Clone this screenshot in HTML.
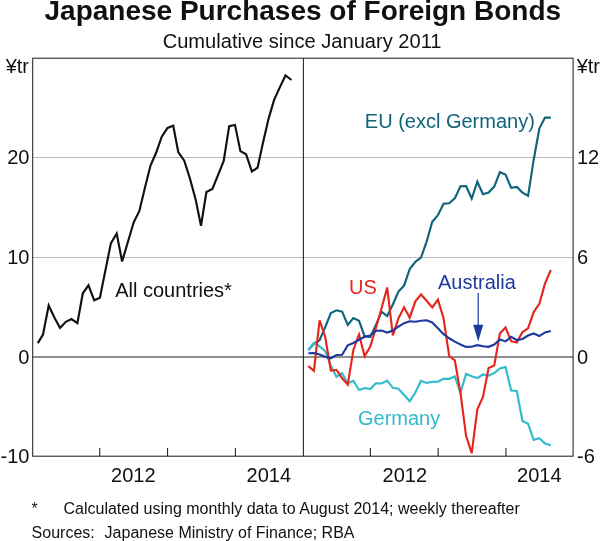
<!DOCTYPE html>
<html><head><meta charset="utf-8"><title>Japanese Purchases of Foreign Bonds</title>
<style>
html,body{margin:0;padding:0;background:#fff;}
body{width:600px;height:541px;overflow:hidden;}
svg{display:block;font-family:"Liberation Sans",Arial,sans-serif;}
.t{font-size:20px;fill:#111;}
text{paint-order:stroke;}
</style></head><body>
<svg width="600" height="541" viewBox="0 0 600 541">
<rect width="600" height="541" fill="#fff"/>
<text x="302.8" y="19.9" text-anchor="middle" font-size="28" font-weight="bold" fill="#111">Japanese Purchases of Foreign Bonds</text>
<text x="302.1" y="47.8" text-anchor="middle" font-size="20.1" fill="#111">Cumulative since January 2011</text>
<g stroke="#b9bbbf" stroke-width="1" fill="none">
<line x1="32.7" y1="157.5" x2="573.1" y2="157.5"/>
<line x1="32.7" y1="257.5" x2="573.1" y2="257.5"/>
</g>
<g stroke="#6a6a6a" stroke-width="1.3" fill="none">
<line x1="32.7" y1="357" x2="573.1" y2="357"/>
</g>
<g stroke="#222" stroke-width="1.05" fill="none">
<rect x="32.7" y="58.2" width="540.4" height="398.0"/>
<line x1="303.4" y1="58.2" x2="303.4" y2="456.2"/>
<path d="M99.75 456.2v-8.3M167.55 456.2v-8.3M235.4 456.2v-8.3M370.35 456.2v-8.3M438.15 456.2v-8.3M505.95 456.2v-8.3"/>
</g>
<g fill="none" stroke-width="2.15" stroke-linejoin="miter" stroke-linecap="butt">
<polyline stroke="#111" points="37.8,343.1 43.0,334.5 48.7,305.5 54.6,317.9 60.1,328 65.8,321.8 71.5,319 77.4,323.1 82.8,293.3 88.5,285.3 94.2,300.3 99.9,297.7 110.85,243.4 116.7,233.5 122.1,261.5 133.7,222.3 139.3,211.2 145,187.5 150.5,165.5 156,153 161.75,136.75 167.5,128 173.25,125.75 178.25,152 184.25,160.75 190,178.75 195.75,200 201,225.75 206.4,192 212.4,188.9 218,175.1 223.7,160.9 229.2,126.1 235,124.9 240.4,151.1 246.1,154.3 251.9,171.5 257.6,167.7 263.1,142.3 268.6,118.6 274.1,99.9 279.8,87.4 285.5,75.5 291.5,80"/>
<polyline stroke="#10647a" points="308.3,350.0 313.94,343.7 319.57,340.3 325.21,327.2 330.84,313.0 336.48,310.3 342.11,311.6 347.75,325.0 353.38,318.1 359.01,320.8 364.65,336.3 370.29,337.0 375.92,325.0 381.56,311.7 387.19,316.0 392.82,304.5 398.46,291.6 404.1,285.6 409.73,269.0 415.37,261.8 421.0,257.7 426.63,241.6 432.27,221.7 437.9,215.2 443.54,203.7 449.18,203.2 454.81,198.4 460.44,186.3 466.08,186.1 471.72,198.5 477.35,181.7 482.99,194.3 488.62,192.5 494.25,186.6 499.89,172.2 505.52,174.6 511.16,187.8 516.8,186.9 522.43,192.6 528.07,195.8 533.7,159.7 539.34,128.5 544.97,117.6 550.8,117.6"/>
<polyline stroke="#2fbbcb" points="308.3,350.0 313.94,343.0 319.57,346.3 325.21,351.2 330.84,365.8 336.48,376.7 342.11,373.3 347.75,383.3 353.38,380.8 359.01,390.0 364.65,388.0 370.29,389.0 375.92,383.3 381.56,383.5 387.19,380.6 392.82,387.8 398.46,388.8 404.1,395.0 409.73,401.3 415.37,392.5 421.0,380.8 426.63,383.0 432.27,381.7 437.9,381.7 443.54,378.8 449.18,378.8 454.81,376.4 460.44,392.8 466.08,374.0 471.72,376.2 477.35,378.1 482.99,374.5 488.62,375.7 494.25,373.0 499.89,368.4 505.52,367.0 511.16,390.5 516.8,390.9 522.43,421.0 528.07,423.7 533.7,439.8 539.34,438.1 544.97,443.5 550.8,445.2"/>
<polyline stroke="#e3271d" points="308.3,366.2 313.94,370.8 319.57,320.3 325.21,337.0 330.84,370.5 336.48,370.0 342.11,378.3 347.75,384.7 353.38,350.0 359.01,334.5 364.65,356.2 370.29,346.5 375.92,328.0 381.56,308.3 387.19,287.5 392.82,335.4 398.46,318.3 404.1,307.2 409.73,317.7 415.37,301.3 421.0,294.5 426.63,300.8 432.27,307.5 437.9,299.7 443.54,318.3 449.18,356.0 454.81,360.3 460.44,392.6 466.08,435.8 471.72,453.1 477.35,409.2 482.99,396.9 488.62,368.0 494.25,365.6 499.89,333.5 505.52,327.4 511.16,341.2 516.8,342.6 522.43,332.0 528.07,328.4 533.7,312.1 539.34,303.9 544.97,283.6 550.8,270.0"/>
<polyline stroke="#1c3a9e" points="308.3,353.3 313.94,353.0 319.57,354.5 325.21,356.7 330.84,358.3 336.48,355.0 342.11,354.7 347.75,345.3 353.38,343.0 359.01,339.7 364.65,336.7 370.29,335.5 375.92,330.8 381.56,330.6 387.19,332.5 392.82,330.5 398.46,326.6 404.1,323.2 409.73,321.3 415.37,321.7 421.0,320.8 426.63,320.3 432.27,322.5 437.9,328.3 443.54,334.2 449.18,338.3 454.81,341.6 460.44,344.5 466.08,346.9 471.72,346.8 477.35,345.2 482.99,346.3 488.62,346.8 494.25,344.5 499.89,339.4 505.52,341.4 511.16,336.9 516.8,340.1 522.43,339.0 528.07,335.5 533.7,333.5 539.34,336.1 544.97,332.4 550.8,331.0"/>
</g>
<g stroke="#1c3a9e" fill="#1c3a9e">
<line x1="478.2" y1="293" x2="478.2" y2="328" stroke-width="1.2"/>
<path d="M473.2 324.8 L483.2 324.8 L478.2 341.6 Z" stroke="none"/>
</g>
<g class="t">
<text x="29" y="73.4" text-anchor="end">¥tr</text>
<text x="29.4" y="164.4" text-anchor="end">20</text>
<text x="29.4" y="264.4" text-anchor="end">10</text>
<text x="29.4" y="364.4" text-anchor="end">0</text>
<text x="29.4" y="463.2" text-anchor="end">-10</text>
<text x="576.7" y="73.4">¥tr</text>
<text x="577" y="164.4">12</text>
<text x="577" y="264.4">6</text>
<text x="577" y="364.4">0</text>
<text x="577" y="463.2">-6</text>
<text x="133.3" y="481.6" text-anchor="middle">2012</text>
<text x="268.8" y="481.6" text-anchor="middle">2014</text>
<text x="404.8" y="481.6" text-anchor="middle">2012</text>
<text x="539.3" y="481.6" text-anchor="middle">2014</text>
<text x="115.2" y="296.8">All countries*</text>
<text x="364.8" y="127.7" fill="#10647a">EU (excl Germany)</text>
<text x="349" y="294" fill="#e3271d">US</text>
<text x="438" y="289" fill="#1c3a9e">Australia</text>
<text x="358" y="425.2" fill="#2fbbcb">Germany</text>
</g>
<g font-size="16" fill="#111">
<text x="31.6" y="514">*</text>
<text x="63.5" y="514">Calculated using monthly data to August 2014; weekly thereafter</text>
<text x="31.6" y="537.7">Sources:</text>
<text x="104.6" y="537.7">Japanese Ministry of Finance; RBA</text>
</g>
</svg>
</body></html>
